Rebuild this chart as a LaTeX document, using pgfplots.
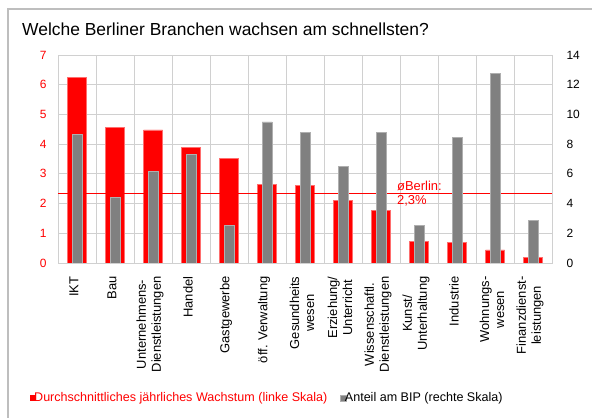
\documentclass[border=0pt]{standalone}
\usepackage{pgfplots}
\pgfplotsset{compat=1.18}
\usepackage{fontspec}
\setmainfont{Liberation Sans}
\definecolor{gridc}{RGB}{208,208,208}
\definecolor{barred}{RGB}{255,0,0}
\definecolor{redline}{RGB}{255,110,110}
\definecolor{bargray}{RGB}{128,128,128}
\definecolor{grayline}{RGB}{175,175,175}
\definecolor{framec}{RGB}{190,190,190}
\begin{document}
\begin{tikzpicture}
\path[use as bounding box] (0,0) rectangle (592bp,418bp);
\draw[framec, line width=1.5bp] (8bp,0) -- (8bp,409bp) -- (592bp,409bp);
\node[anchor=base west, inner sep=0, font=\fontsize{17.5}{20}\selectfont] at (22bp,382bp) {Welche Berliner Branchen wachsen am schnellsten?};
\begin{axis}[
  at={(58bp,155bp)}, anchor=south west, scale only axis,
  width=494bp, height=208bp,
  xmin=-0.5, xmax=12.5, ymin=0, ymax=7,
  ytick={0,...,7}, xtick={0,...,12},
  xticklabels={IKT, Bau, {Unternehmens-\\Dienstleistungen}, Handel, Gastgewerbe, öff. Verwaltung, {Gesundheits\\wesen}, {Erziehung/\\Unterricht}, {Wissenschaftl.\\Dienstleistungen}, {Kunst/\\Unterhaltung}, Industrie, {Wohnungs-\\wesen}, {Finanzdienst-\\leistungen}},
  minor xtick={-0.5,0.5,...,12.5},
  xminorgrids, ymajorgrids, xmajorgrids=false,
  grid style={gridc, line width=0.8bp},
  minor grid style={gridc, line width=0.8bp},
  axis line style={gridc, line width=1bp},
  major tick length=0, minor tick length=0,
  /pgf/number format/assume math mode=true,
  yticklabel style={red, font=\fontsize{12}{14}\selectfont, xshift=-8bp},
  xticklabel style={rotate=90, anchor=east, align=center, font=\fontsize{13}{15}\selectfont, xshift=-10bp, yshift=3bp},
]
\addplot[ybar, bar width=19bp, fill=barred, draw=redline, line width=0.5bp] coordinates {
(0,6.24) (1,4.57) (2,4.48) (3,3.9) (4,3.52) (5,2.64) (6,2.6) (7,2.1) (8,1.78) (9,0.73) (10,0.7) (11,0.44) (12,0.2)};
\addplot[sharp plot, draw=barred, line width=1.1bp, mark=none] coordinates {(-0.5,2.35) (12.5,2.35)};
\node[anchor=west, inner sep=0, text=barred, align=left, font=\fontsize{13}{14}\selectfont] at (axis cs:8.42,2.35) {øBerlin:\\2,3\%};
\end{axis}
\begin{axis}[
  at={(58bp,155bp)}, anchor=south west, scale only axis,
  width=494bp, height=208bp,
  xmin=-0.5, xmax=12.5, ymin=0, ymax=14,
  ytick={0,2,...,14},
  axis y line*=right, axis x line=none,
  axis line style={gridc, line width=1bp},
  major tick length=0,
  /pgf/number format/assume math mode=true,
  yticklabel style={black, font=\fontsize{12}{14}\selectfont, xshift=11bp},
  legend image code/.code={\fill[#1] (0bp,-3bp) rectangle (6bp,3bp);},
  legend style={draw=none, fill=none, at={(-0.0567,-0.648)}, anchor=west, inner sep=0pt,
    legend columns=2, font=\fontsize{12.6}{14}\selectfont,
    nodes={inner sep=1bp}},
  legend cell align=left,
]
\addlegendimage{fill=barred, draw=none}
\addlegendentry{\hspace*{-3bp}\textcolor{barred}{Durchschnittliches jährliches Wachstum (linke Skala)}\hspace*{12bp}}
\addplot[ybar, bar width=10bp, fill=bargray, draw=grayline, line width=0.5bp] coordinates {
(0,8.66) (1,4.44) (2,6.19) (3,7.33) (4,2.54) (5,9.5) (6,8.8) (7,6.48) (8,8.8) (9,2.52) (10,8.46) (11,12.77) (12,2.85)};
\addlegendentry{\hspace*{-3bp}Anteil am BIP (rechte Skala)}
\end{axis}
\end{tikzpicture}
\end{document}
